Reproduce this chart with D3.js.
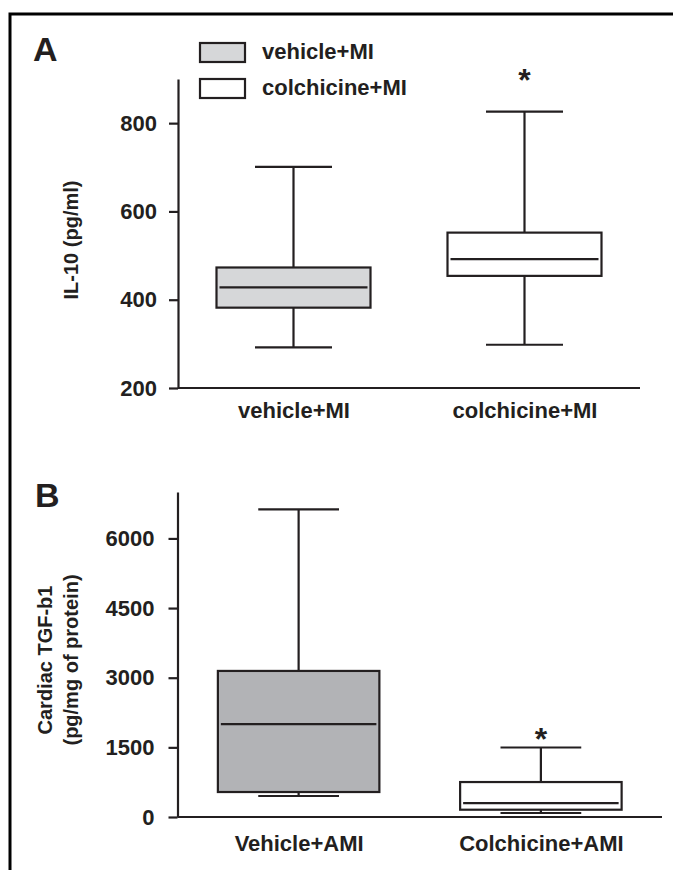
<!DOCTYPE html>
<html>
<head>
<meta charset="utf-8">
<script src="https://cdn.jsdelivr.net/npm/d3@7"></script>
<style>
  body { margin: 0; background: #fff; }
  svg text { font-family: "Liberation Sans", Arial, sans-serif; font-weight: bold; fill: #231f20; }
  .tick text { font-size: 22px; }
  .axis path, .axis line { stroke: #231f20; stroke-width: 2.2; }
</style>
</head>
<body>
<svg id="chart" width="673" height="870"></svg>
<script>
// DATA: panel A (IL-10, pg/ml)
const groupsA = ["vehicle+MI", "colchicine+MI"];
const minA = [292, 298];
const q1A = [382, 454];
const medA = [428, 492];
const q3A = [473, 552];
const maxA = [701, 826];
const ticksA = [200, 400, 600, 800];
const starA = [null, 909];   // "*" position (pg/ml)

// DATA: panel B (TGF-b1, pg/mg of protein)
const groupsB = ["Vehicle+AMI", "Colchicine+AMI"];
const minB = [452, 86];
const q1B = [538, 157];
const medB = [2000, 301];
const q3B = [3146, 753];
const maxB = [6624, 1497];
const ticksB = [0, 1500, 3000, 4500, 6000];
const starB = [null, 1785];

const fillsA = ["#d6d7d9", "#ffffff"];
const fillsB = ["#b2b3b6", "#ffffff"];
const ink = "#231f20";

const svg = d3.select("#chart");

// outer frame (only left and top visible)
svg.append("rect")
    .attr("x", 10).attr("y", 14)
    .attr("width", 700).attr("height", 900)
    .attr("fill", "none")
    .attr("stroke", "#000")
    .attr("stroke-width", 3);

// draws one box-plot panel
function drawPanel(cfg) {
    const x = d3.scalePoint()
        .domain(cfg.groups)
        .range([cfg.left, cfg.right])
        .padding(0.5);
    const y = d3.scaleLinear()
        .domain(cfg.domain)
        .range([cfg.bottom, cfg.top]);
    const step = x.step();
    const boxW = step * 2 / 3, capW = step / 3;

    const rows = cfg.groups.map((g, i) => ({
        g, min: cfg.min[i], q1: cfg.q1[i], med: cfg.med[i], q3: cfg.q3[i], max: cfg.max[i],
        fill: cfg.fills[i], star: cfg.star[i]
    }));

    // y axis
    svg.append("g")
        .attr("class", "axis")
        .attr("transform", `translate(${cfg.left},0)`)
        .call(d3.axisLeft(y).tickValues(cfg.ticks).tickFormat(d3.format("d"))
            .tickSize(9).tickSizeOuter(0).tickPadding(cfg.tickPad))
        .call(g => g.selectAll("text").attr("fill", ink));

    // x axis
    svg.append("g")
        .attr("class", "axis")
        .attr("transform", `translate(0,${cfg.bottom})`)
        .call(d3.axisBottom(x).tickSize(0).tickSizeOuter(0).tickPadding(cfg.labelPad))
        .call(g => g.select(".domain").attr("d", `M${cfg.left},0H${cfg.axisEnd}`))
        .call(g => g.selectAll("text").attr("fill", ink));

    const box = svg.append("g").attr("stroke", ink).attr("stroke-width", 2.2);

    // whiskers
    box.selectAll(".whisk").data(rows).enter().append("line")
        .attr("x1", d => x(d.g)).attr("x2", d => x(d.g))
        .attr("y1", d => y(d.min)).attr("y2", d => y(d.max));
    box.selectAll(".capHi").data(rows).enter().append("line")
        .attr("x1", d => x(d.g) - capW / 2).attr("x2", d => x(d.g) + capW / 2)
        .attr("y1", d => y(d.max)).attr("y2", d => y(d.max));
    box.selectAll(".capLo").data(rows).enter().append("line")
        .attr("x1", d => x(d.g) - capW / 2).attr("x2", d => x(d.g) + capW / 2)
        .attr("y1", d => y(d.min)).attr("y2", d => y(d.min));

    // boxes
    box.selectAll("rect").data(rows).enter().append("rect")
        .attr("x", d => x(d.g) - boxW / 2)
        .attr("y", d => y(d.q3))
        .attr("width", boxW)
        .attr("height", d => y(d.q1) - y(d.q3))
        .attr("fill", d => d.fill);

    // medians (slightly inset)
    box.selectAll(".med").data(rows).enter().append("line")
        .attr("x1", d => x(d.g) - boxW / 2 + 3).attr("x2", d => x(d.g) + boxW / 2 - 3)
        .attr("y1", d => y(d.med)).attr("y2", d => y(d.med));

    // significance stars
    svg.selectAll(null).data(rows.filter(d => d.star != null)).enter().append("text")
        .attr("x", d => x(d.g))
        .attr("y", d => y(d.star) + 16)
        .attr("text-anchor", "middle")
        .attr("font-size", 32)
        .text("*");

    // panel letter
    svg.append("text")
        .attr("x", cfg.letterX).attr("y", cfg.letterY)
        .attr("font-size", 34)
        .text(cfg.letter);

    // y title (one or two lines)
    const yt = svg.append("text")
        .attr("transform", `translate(${cfg.titleX},${cfg.titleY}) rotate(-90)`)
        .attr("text-anchor", "middle")
        .attr("font-size", 20);
    cfg.title.forEach((t, i) => {
        yt.append("tspan")
            .attr("x", 0)
            .attr("dy", i === 0 ? -(cfg.title.length - 1) * 26 : 26)
            .text(t);
    });
}

drawPanel({
    groups: groupsA, min: minA, q1: q1A, med: medA, q3: q3A, max: maxA,
    fills: fillsA, star: starA, ticks: ticksA, domain: [200, 900],
    left: 178, right: 640, axisEnd: 640, top: 79, bottom: 388,
    tickPad: 12, labelPad: 14,
    letter: "A", letterX: 33, letterY: 61,
    title: ["IL-10 (pg/ml)"], titleX: 78, titleY: 240
});

drawPanel({
    groups: groupsB, min: minB, q1: q1B, med: medB, q3: q3B, max: maxB,
    fills: fillsB, star: starB, ticks: ticksB, domain: [0, 7000],
    left: 177.5, right: 662, axisEnd: 662, top: 492, bottom: 817,
    tickPad: 14, labelPad: 18,
    letter: "B", letterX: 35, letterY: 507,
    title: ["Cardiac TGF-b1", "(pg/mg of protein)"], titleX: 78, titleY: 660
});

// legend (panel A)
const legendItems = groupsA;
const legend = svg.append("g");
legend.selectAll("rect").data(legendItems).enter().append("rect")
    .attr("x", 200).attr("y", (d, i) => 43 + i * 36)
    .attr("width", 45).attr("height", 19)
    .attr("fill", (d, i) => fillsA[i])
    .attr("stroke", ink).attr("stroke-width", 2.2);
legend.selectAll("text").data(legendItems).enter().append("text")
    .attr("x", 262).attr("y", (d, i) => 59 + i * 36)
    .attr("font-size", 22)
    .text(d => d);
</script>
</body>
</html>
